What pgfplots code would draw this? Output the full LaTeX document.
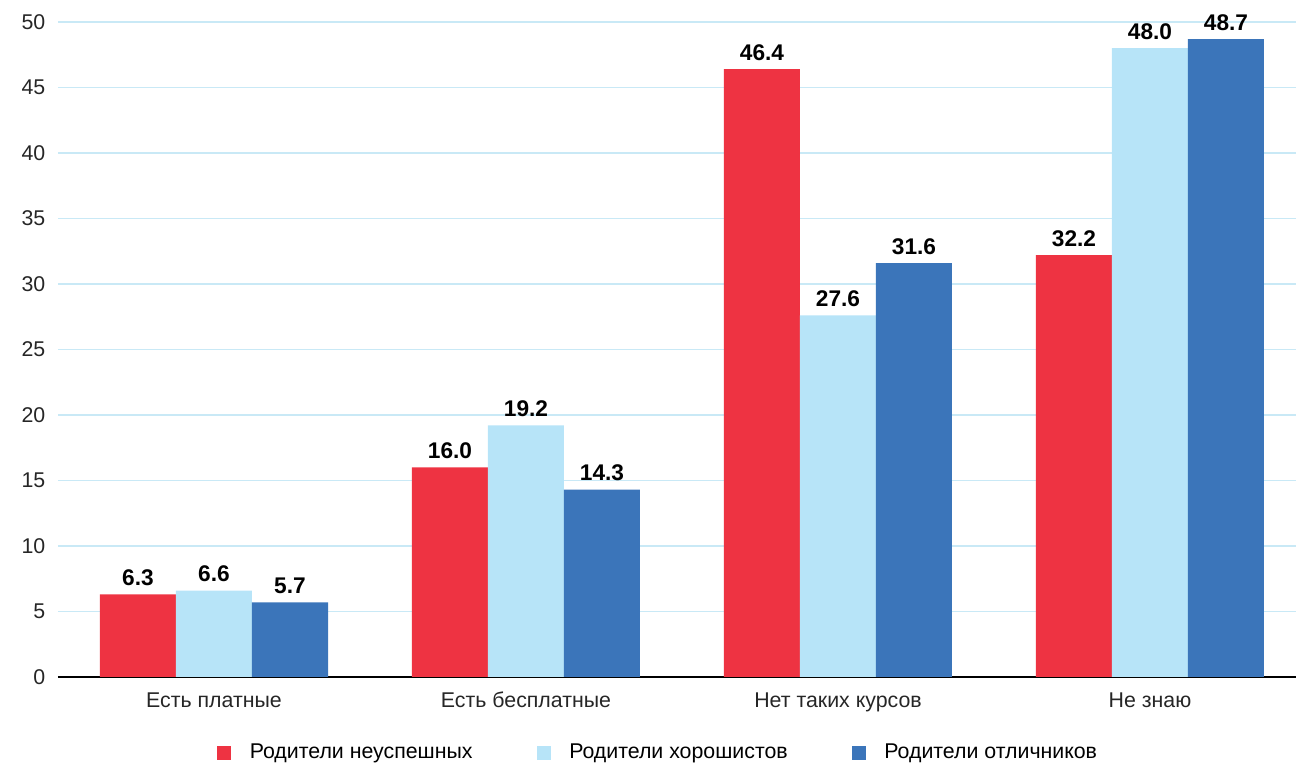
\documentclass[border=0pt]{standalone}
\usepackage{fontspec}
\setmainfont{Liberation Sans}
\usepackage{pgfplots}
\pgfplotsset{compat=1.18}
\definecolor{cred}{HTML}{EE3342}
\definecolor{clight}{HTML}{B7E4F8}
\definecolor{cblue}{HTML}{3B75BA}
\definecolor{cgrid}{HTML}{C9E9F6}
\begin{document}
\begin{tikzpicture}
\begin{axis}[
  scale only axis, width=928.5pt, height=491.25pt,
  xmin=-0.5, xmax=3.468, ymin=0, ymax=50,
  ybar=0pt, bar width=57pt,
  xtick={0,1,2,3},
  xticklabels={Есть платные, Есть бесплатные, Нет таких курсов, Не знаю},
  ytick={0,5,...,50},
  ymajorgrids, grid style={cgrid, line width=1.1pt},
  axis x line=bottom, axis y line=left,
  y axis line style={draw=none},
  x axis line style={black, line width=1pt, -},
  major tick length=0pt,
  tick label style={font=\fontsize{16}{19}\selectfont, text=black!85},
  /pgf/number format/assume math mode=true,
  yticklabel style={xshift=-6pt},
  xticklabel style={text height=11.5pt, text depth=3.5pt, yshift=-8pt},
  nodes near coords={\pgfmathprintnumber[fixed,fixed zerofill,precision=1]{\pgfplotspointmeta}},
  every node near coord/.append style={font=\bfseries\fontsize{17}{19}\selectfont, black, yshift=3pt},
  legend style={at={(0.485,-0.1155)}, anchor=center, draw=none, legend columns=3,
    font=\fontsize{16}{19}\selectfont,
    /tikz/every odd column/.append style={column sep=12pt},
    /tikz/every even column/.append style={column sep=46pt}},
  clip=false,
]
\addplot[fill=cred, draw=none, legend image code/.code={\fill[cred] (0pt,-5.25pt) rectangle (10.5pt,5.25pt);}]
  coordinates {(0,6.3) (1,16.0) (2,46.4) (3,32.2)};
\addlegendentry{Родители неуспешных}
\addplot[fill=clight, draw=none, legend image code/.code={\fill[clight] (0pt,-5.25pt) rectangle (10.5pt,5.25pt);}]
  coordinates {(0,6.6) (1,19.2) (2,27.6) (3,48.0)};
\addlegendentry{Родители хорошистов}
\addplot[fill=cblue, draw=none, legend image code/.code={\fill[cblue] (0pt,-5.25pt) rectangle (10.5pt,5.25pt);}]
  coordinates {(0,5.7) (1,14.3) (2,31.6) (3,48.7)};
\addlegendentry{Родители отличников}
\end{axis}
\pgfresetboundingbox
\useasboundingbox (-43.5pt,-66.75pt) rectangle (928.5pt,507.75pt);
\end{tikzpicture}
\end{document}
